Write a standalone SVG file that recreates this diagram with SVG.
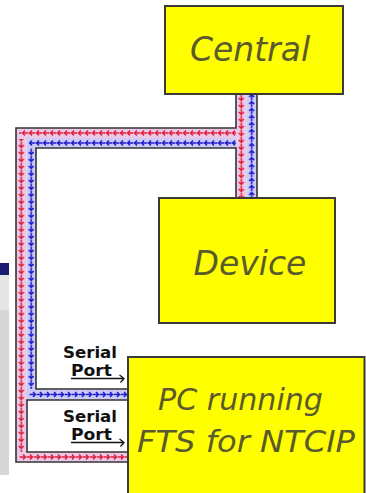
<svg xmlns="http://www.w3.org/2000/svg" xmlns:xlink="http://www.w3.org/1999/xlink" width="366" height="493" viewBox="0 0 366 493">
<style>
.box{fill:#ffff00;stroke:#3a3a3a;stroke-width:2}
.lbl{font-family:"DejaVu Sans",Verdana,sans-serif;font-style:italic;fill:#5a5a2c}
.port{font-family:"DejaVu Sans",Verdana,sans-serif;font-weight:bold;font-size:15px;fill:#111}
.out{fill:none;stroke:#333;stroke-width:1.6}
.r{fill:none;stroke:#e0203a;stroke-width:1.5}
.b{fill:none;stroke:#1c1cd0;stroke-width:1.5}
.rl{fill:#ecc8e8}
.bl{fill:#cdcbf6}
.pa{fill:none;stroke:#111;stroke-width:1.3}
</style>
<defs>
<path id="aD" d="M0,-3 V3 M-2.5,0.5 L0,3 L2.5,0.5"/>
<path id="aU" d="M0,3 V-3 M-2.5,-0.5 L0,-3 L2.5,-0.5"/>
<path id="aL" d="M3,0 H-3 M-0.5,-2.5 L-3,0 L-0.5,2.5"/>
<path id="aR" d="M-3,0 H3 M0.5,-2.5 L3,0 L0.5,2.5"/>
<pattern id="pRD1" patternUnits="userSpaceOnUse" x="16" y="1" width="10.5" height="7"><use xlink:href="#aD" x="5.25" y="3.5" class="r"/></pattern>
<pattern id="pBD1" patternUnits="userSpaceOnUse" x="26.5" y="1" width="9.5" height="7"><use xlink:href="#aD" x="4.75" y="3.5" class="b"/></pattern>
<pattern id="pRL" patternUnits="userSpaceOnUse" x="1" y="128" width="7" height="10"><use xlink:href="#aL" x="3.5" y="5" class="r"/></pattern>
<pattern id="pBL" patternUnits="userSpaceOnUse" x="1" y="138" width="7" height="10"><use xlink:href="#aL" x="3.5" y="5" class="b"/></pattern>
<pattern id="pRD2" patternUnits="userSpaceOnUse" x="236" y="94" width="10.5" height="7"><use xlink:href="#aD" x="5.25" y="3.5" class="r"/></pattern>
<pattern id="pBU" patternUnits="userSpaceOnUse" x="246.5" y="94" width="10.5" height="7"><use xlink:href="#aU" x="5.25" y="3.5" class="b"/></pattern>
<pattern id="pBR" patternUnits="userSpaceOnUse" x="29" y="389" width="7" height="11"><use xlink:href="#aR" x="3.5" y="5.5" class="b"/></pattern>
<pattern id="pRR" patternUnits="userSpaceOnUse" x="19" y="452" width="7" height="10"><use xlink:href="#aR" x="3.5" y="5" class="r"/></pattern>
</defs>
<rect x="0" y="0" width="366" height="493" fill="#ffffff"/>
<g id="side-panel">
<rect x="0" y="263" width="9" height="12" fill="#1c1c70"/>
<rect x="0" y="275" width="9" height="200" fill="#d6d6d6"/>
<rect x="0" y="275" width="9" height="35" fill="#e6e6e6"/>
</g>
<g id="connectors">
<rect class="rl" x="236" y="94" width="10.5" height="104"/>
<rect class="bl" x="246.5" y="94" width="10.5" height="104"/>
<rect class="rl" x="16" y="128" width="220" height="10"/>
<rect class="bl" x="26.5" y="138" width="209.5" height="10"/>
<rect class="rl" x="16" y="128" width="10.5" height="334"/>
<rect class="bl" x="26.5" y="138" width="9.5" height="262"/>
<rect class="bl" x="26.5" y="389" width="101.5" height="11"/>
<rect class="rl" x="16" y="452" width="112" height="10"/>
<rect fill="url(#pRD2)" x="236" y="94" width="10.5" height="104"/>
<rect fill="url(#pBU)" x="246.5" y="94" width="10.5" height="104"/>
<rect fill="url(#pRL)" x="19" y="128" width="217" height="10"/>
<rect fill="url(#pBL)" x="29" y="138" width="207" height="10"/>
<rect fill="url(#pRD1)" x="16" y="139" width="10.5" height="313"/>
<rect fill="url(#pBD1)" x="26.5" y="148" width="9.5" height="241"/>
<rect fill="url(#pBR)" x="29" y="389" width="99" height="11"/>
<rect fill="url(#pRR)" x="19" y="452" width="109" height="10"/>
<path class="out" d="M236,94 V128 H16 V462 H128"/>
<path class="out" d="M236,198 V148 H36 V389 H128"/>
<path class="out" d="M128,400 H27 V452 H128"/>
<path class="out" d="M257,94 V198"/>
<path class="pa" d="M71,378.5 H124 M119.5,375 L124,378.5 L120.5,382.5"/>
<path class="pa" d="M71,442.5 H124 M119.5,439 L124,442.5 L120.5,446.5"/>
</g>
<g id="serial-port-1">
<text class="port" x="63" y="357.5" textLength="54" lengthAdjust="spacingAndGlyphs">Serial</text>
<text class="port" x="71" y="376" textLength="41" lengthAdjust="spacingAndGlyphs">Port</text>
</g>
<g id="serial-port-2">
<text class="port" x="63" y="421.5" textLength="54" lengthAdjust="spacingAndGlyphs">Serial</text>
<text class="port" x="71" y="440" textLength="41" lengthAdjust="spacingAndGlyphs">Port</text>
</g>
<g id="central">
<rect class="box" x="165" y="6" width="178" height="88"/>
<text class="lbl" x="250" y="61" font-size="33" text-anchor="middle">Central</text>
</g>
<g id="device">
<rect class="box" x="159" y="198" width="176" height="125"/>
<text class="lbl" x="250" y="275" font-size="33" text-anchor="middle">Device</text>
</g>
<g id="pc">
<rect class="box" x="128" y="357" width="236.5" height="150"/>
<text class="lbl" x="158" y="410" font-size="31" textLength="165" lengthAdjust="spacingAndGlyphs">PC running</text>
<text class="lbl" x="137" y="452" font-size="31" textLength="218" lengthAdjust="spacingAndGlyphs">FTS for NTCIP</text>
</g>
</svg>
